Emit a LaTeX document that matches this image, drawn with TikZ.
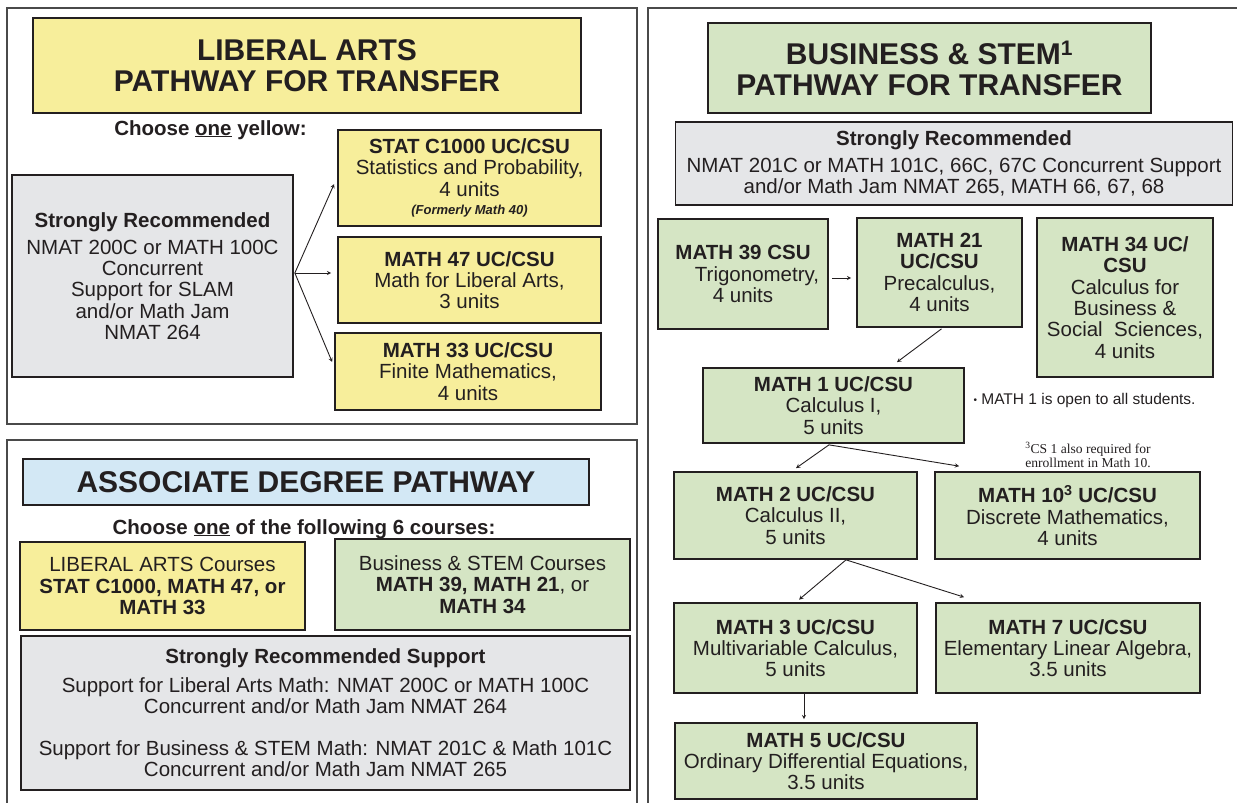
\documentclass[tikz,border=0pt]{standalone}
\usepackage{fontspec}
\setmainfont{Liberation Sans}
\newfontfamily\notefont{Liberation Serif}
\usepackage{xcolor}

\definecolor{yelfill}{HTML}{F7EE9B}
\definecolor{grnfill}{HTML}{D5E5C4}
\definecolor{gryfill}{HTML}{E5E6E8}
\definecolor{blufill}{HTML}{D3E8F5}
\definecolor{ink}{HTML}{231F20}
\definecolor{framegray}{HTML}{4A4A4A}

\newcommand{\bodyfont}{\fontsize{20.5}{21.3}\selectfont}
\newcommand{\headfont}{\fontsize{30}{31}\selectfont\bfseries}

\begin{document}
\begin{tikzpicture}[x=1pt, y=-1pt, >=stealth,
    box/.style={draw=ink, line width=1.7pt, align=center, inner sep=0pt, text=ink, font=\bodyfont},
    yel/.style={box, fill=yelfill},
    grn/.style={box, fill=grnfill},
    gry/.style={box, fill=gryfill},
    blu/.style={box, fill=blufill},
    arr/.style={->, line width=0.9pt, draw=ink}]

    \useasboundingbox (0,0) rectangle (1237,803);

    % Panel frames
    \draw[framegray, line width=1.1pt] (7,8) rectangle (637,424);
    \draw[framegray, line width=1.1pt] (7,810) -- (7,440) -- (637,440) -- (637,810);
    \draw[framegray, line width=1.1pt] (648,810) -- (648,8) -- (1245,8);

    % Liberal arts pathway
    \node[yel, minimum width=548pt, minimum height=95pt, font=\headfont] (latitle) at (307,65.5)
        {LIBERAL ARTS\\PATHWAY FOR TRANSFER};
    \node[anchor=base, text=ink, font=\bodyfont\bfseries] (lachoose) at (210.5,135)
        {Choose \underline{one} yellow:};
    \node[gry, minimum width=281pt, minimum height=202pt] (larec) at (152.5,276)
        {\textbf{Strongly Recommended}\\[6pt] NMAT 200C or MATH 100C\\ Concurrent\\ Support for SLAM\\ and/or Math Jam\\ NMAT 264};
    \node[yel, minimum width=263pt, minimum height=96pt] (stat) at (469.5,178)
        {\textbf{STAT C1000 UC/CSU}\\ Statistics and Probability,\\ 4 units\\[-3pt] {\fontsize{13}{16}\selectfont\bfseries\itshape (Formerly Math 40)}};
    \node[yel, minimum width=263pt, minimum height=86pt] (m47) at (469.5,280)
        {\textbf{MATH 47 UC/CSU}\\ Math for Liberal Arts,\\ 3 units};
    \node[yel, minimum width=266pt, minimum height=77pt] (m33) at (468,371.5)
        {\textbf{MATH 33 UC/CSU}\\ Finite Mathematics,\\ 4 units};

    \coordinate (fork) at ([shift={(1,-3)}]larec.east);
    \draw[arr] (fork) -- ([shift={(-3,6)}]stat.west);
    \draw[arr] (fork) -- ([shift={(-6,-7)}]m47.west);
    \draw[arr] (fork) -- ([shift={(-2,-9.5)}]m33.west);

    % Associate degree pathway
    \node[blu, minimum width=566pt, minimum height=46pt, font=\headfont] (adtitle) at (306,482)
        {ASSOCIATE DEGREE PATHWAY};
    \node[anchor=base, text=ink, font=\bodyfont\bfseries] (adchoose) at (304,534)
        {Choose \underline{one} of the following 6 courses:};
    \node[yel, minimum width=285pt, minimum height=88pt] (adla) at (162.5,586)
        {LIBERAL ARTS Courses\\ \textbf{STAT C1000, MATH 47, or}\\ \textbf{MATH 33}};
    \node[grn, minimum width=295pt, minimum height=91pt] (adbs) at (482.5,584.5)
        {Business \& STEM Courses\\ \textbf{MATH 39, MATH 21}, or\\ \textbf{MATH 34}};
    \node[gry, minimum width=609pt, minimum height=154pt] (adsup) at (325.5,713)
        {\textbf{Strongly Recommended Support}\\[7pt] Support for Liberal Arts Math: NMAT 200C or MATH 100C\\ Concurrent and/or Math Jam NMAT 264\\[21pt]
         Support for Business \& STEM Math: NMAT 201C \& Math 101C\\ Concurrent and/or Math Jam NMAT 265};

    % Business & STEM pathway
    \node[grn, minimum width=443pt, minimum height=90pt, font=\headfont] (bstitle) at (929.5,68)
        {BUSINESS \& STEM\textsuperscript{1}\\PATHWAY FOR TRANSFER};
    \node[gry, minimum width=557pt, minimum height=83pt] (bsrec) at (954,163.5)
        {\textbf{Strongly Recommended}\\[6pt] NMAT 201C or MATH 101C, 66C, 67C Concurrent Support\\ and/or Math Jam NMAT 265, MATH 66, 67, 68};
    \node[grn, minimum width=170pt, minimum height=110pt] (m39) at (743,274)
        {\textbf{MATH 39 CSU}\\ \hspace*{28pt}Trigonometry,\\ 4 units};
    \node[grn, minimum width=165pt, minimum height=109pt] (m21) at (939.5,272.5)
        {\textbf{MATH 21}\\ \textbf{UC/CSU}\\ Precalculus,\\ 4 units};
    \node[grn, minimum width=176pt, minimum height=159pt] (m34) at (1125,297.5)
        {\textbf{MATH 34 UC/}\\ \textbf{CSU}\\ Calculus for\\ Business \&\\ Social\ \ Sciences,\\ 4 units};
    \node[grn, minimum width=261pt, minimum height=75pt] (m1) at (833.5,405.5)
        {\textbf{MATH 1 UC/CSU}\\ Calculus I,\\ 5 units};
    \node[anchor=base west, text=ink, font=\fontsize{15.5}{16}\selectfont] (m1note) at (970,404)
        {\raisebox{0.5pt}{\fontsize{10}{10}\selectfont\textbullet} MATH 1 is open to all students.};
    \node[align=center, text=ink, font=\notefont\fontsize{13.6}{13.5}\selectfont] (m10note) at (1088,455)
        {\textsuperscript{3}CS 1 also required for\\ enrollment in Math 10.};
    \node[grn, minimum width=243pt, minimum height=87pt] (m2) at (795.5,515.5)
        {\textbf{MATH 2 UC/CSU}\\ Calculus II,\\ 5 units};
    \node[grn, minimum width=265pt, minimum height=87pt] (m10) at (1067.5,515.5)
        {\textbf{MATH 10\textsuperscript{3} UC/CSU}\\ Discrete Mathematics,\\ 4 units};
    \node[grn, minimum width=243pt, minimum height=90pt] (m3) at (795.5,648)
        {\textbf{MATH 3 UC/CSU}\\ Multivariable Calculus,\\ 5 units};
    \node[grn, minimum width=264pt, minimum height=90pt] (m7) at (1068,648)
        {\textbf{MATH 7 UC/CSU}\\ Elementary Linear Algebra,\\ 3.5 units};
    \node[grn, minimum width=301.5pt, minimum height=76pt] (m5) at (826,761)
        {\textbf{MATH 5 UC/CSU}\\ Ordinary Differential Equations,\\ 3.5 units};

    % Prerequisite arrows
    \draw[arr] ([shift={(3,4)}]m39.east) -- ([shift={(-5,5.5)}]m21.west);
    \draw[arr] ([shift={(2,1)}]m21.south) -- ([shift={(63.5,-5)}]m1.north);
    \coordinate (m1out) at ([shift={(-4.5,1)}]m1.south);
    \draw[arr] (m1out) -- ([shift={(0.5,-3)}]m2.north);
    \draw[arr] (m1out) -- ([shift={(25,-5)}]m10.north west);
    \coordinate (m2out) at ([shift={(50.5,0)}]m2.south);
    \draw[arr] (m2out) -- ([shift={(3.5,-2.5)}]m3.north);
    \draw[arr] (m2out) -- ([shift={(29,-5)}]m7.north west);
    \draw[arr] ([shift={(8.5,0)}]m3.south) -- ([shift={(-22,-3)}]m5.north);

\end{tikzpicture}
\end{document}
